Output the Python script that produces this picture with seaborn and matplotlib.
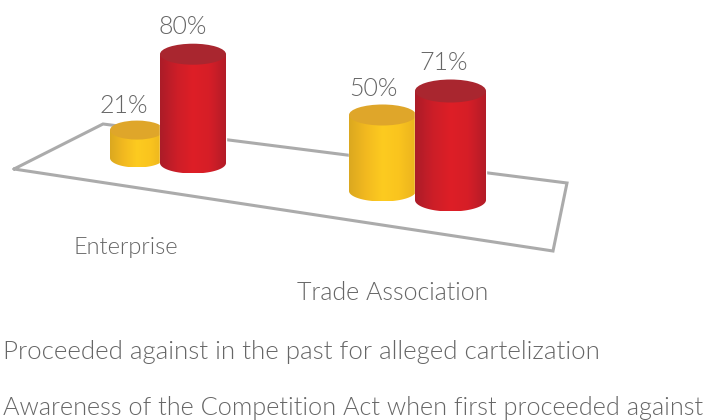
import numpy as np
import pandas as pd
import matplotlib
matplotlib.use("Agg")
import matplotlib.pyplot as plt
from matplotlib import font_manager as fm
from matplotlib.patches import Ellipse, PathPatch
from matplotlib.path import Path
from matplotlib.colors import LinearSegmentedColormap
import seaborn as sns

categories = ["Enterprise", "Trade Association"]
series_names = ["Proceeded against in the past for alleged cartelization",
                "Awareness of the Competition Act when first proceeded against"]
proceeded = [21, 50]
awareness = [80, 71]

# layout: perspective of the 3D scene (pixel geometry, not data)
GEOM = {(0, 0): dict(l=110, r=164, base=158, k=1.33, ry=9.5, dx=-13, dy=2),
        (1, 0): dict(l=160, r=226, base=163, k=1.36, ry=10.5, dx=-10, dy=0),
        (0, 1): dict(l=349, r=416, base=191, k=1.52, ry=10.5, dx=-9, dy=1),
        (1, 1): dict(l=415, r=486, base=200, k=1.535, ry=11.5, dx=-7, dy=0)}
RAMP = [["#dba820", "#f2b91f", "#fdcb20", "#fac41e", "#eab31e"],
        ["#ab1c28", "#cc1e28", "#de1f26", "#d61e27", "#b31c28"]]
TOPS = ["#dfa62a", "#a9262f"]

df = pd.DataFrame({
    "category": categories * 2,
    "series": [series_names[0]] * 2 + [series_names[1]] * 2,
    "value": proceeded + awareness,
})

sns.set_theme(style="white")
plt.rcParams["font.family"] = ["Lato", "DejaVu Sans"]

light = [f for f in fm.findSystemFonts() if f.endswith("Lato-Light.ttf")]


def font(size):
    if light:
        return dict(fontproperties=fm.FontProperties(fname=light[0], size=size))
    return dict(fontsize=size)


TXT = "#666666" if light else "#7d7d7d"

fig = plt.figure(figsize=(7.14, 4.2), dpi=100)
ax = fig.add_axes([0, 0, 1, 1])
sns.barplot(data=df, x="category", y="value", hue="series", hue_order=series_names,
            order=categories, palette=["#fdcb20", "#de1f26"], legend=False,
            errorbar=None, saturation=1, ax=ax)
ax.set_xlim(0, 714)
ax.set_ylim(420, 0)
ax.axis("off")

# floor of the 3D scene
floor = np.array([(14, 169), (103, 124), (567, 183), (553, 251), (14, 169)])
ax.plot(floor[:, 0], floor[:, 1], color="#ababab", lw=2.2, solid_joinstyle="miter", zorder=1)

grad = np.linspace(0, 1, 256)[None, :]
for s, cont in enumerate(ax.containers):
    cmap = LinearSegmentedColormap.from_list("c", RAMP[s])
    for c, bar in enumerate(cont):
        g = GEOM[(s, c)]
        h = bar.get_height() * g["k"]
        top = g["base"] - h
        cx, rx = (g["l"] + g["r"]) / 2, (g["r"] - g["l"]) / 2
        z = 2 + s
        bar.set_x(g["l"]); bar.set_width(g["r"] - g["l"])
        bar.set_y(top); bar.set_height(h); bar.set_zorder(z)
        t = np.linspace(np.pi, 0, 60)
        verts = np.vstack([[(g["l"], top)], [(g["l"], g["base"])],
                           np.c_[cx + rx * np.cos(t), g["base"] + g["ry"] * np.sin(t)],
                           [(g["r"], g["base"])], [(g["r"], top)], [(g["l"], top)]])
        clip = PathPatch(Path(verts), transform=ax.transData, fc="none", ec="none")
        ax.add_patch(clip)
        im = ax.imshow(grad, cmap=cmap, aspect="auto", zorder=z,
                       extent=(g["l"], g["r"], g["base"] + g["ry"], top))
        im.set_clip_path(clip)
        ax.add_patch(Ellipse((cx, top), 2 * rx, 2 * g["ry"], fc=TOPS[s], ec="none", zorder=z))
        vals = proceeded if s == 0 else awareness
        ax.text(cx + g["dx"], top - g["ry"] - 17 + g["dy"], f"{vals[c]}%", ha="center", va="center",
                color=TXT, zorder=5, **font(18))

ax.set_xlim(0, 714)
ax.set_ylim(420, 0)

tk = dict(color=TXT, va="center")
ax.text(126, 247, categories[0], ha="center", **font(17), **tk)
ax.text(393, 293, categories[1], ha="center", **font(18), **tk)
ax.text(3, 352, series_names[0], ha="left", **font(18.6), **tk)
ax.text(3, 408, series_names[1], ha="left", **font(18.2), **tk)

fig.savefig("out.png", dpi=100)
